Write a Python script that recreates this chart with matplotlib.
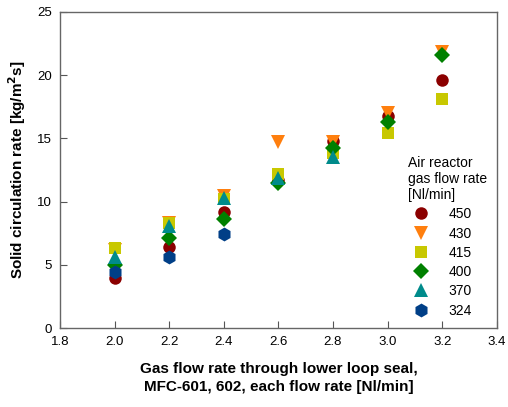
import matplotlib.pyplot as plt

plt.rcParams['font.family'] = ['Liberation Sans', 'DejaVu Sans']

# gas flow rate through lower loop seal [Nl/min]
x_flow = [2.0, 2.2, 2.4, 2.6, 2.8, 3.0, 3.2]

# solid circulation rate [kg/m2s] per air reactor flow rate
rate_450 = [3.95, 6.4, 9.2, 11.7, 14.8, 16.8, 19.6]
rate_430 = [6.2, 8.3, 10.4, 14.7, 14.7, 17.0, 21.8]
rate_415 = [6.3, 8.3, 10.2, 12.2, 13.8, 15.4, 18.1]
rate_400 = [5.0, 7.1, 8.6, 11.5, 14.2, 16.3, 21.6]
rate_370 = [5.6, 8.1, 10.3, 11.9, 13.5]
rate_324 = [4.4, 5.6, 7.4]

series = [
    ('450', rate_450, 'o', '#8b0000', 9),
    ('430', rate_430, 'v', '#ff7f0e', 9.5),
    ('415', rate_415, 's', '#c8c800', 8.5),
    ('400', rate_400, 'D', '#008000', 8),
    ('370', rate_370, '^', '#008b8b', 9.5),
    ('324', rate_324, 'h', '#003f87', 10),
]

fig = plt.figure(figsize=(5.08, 4.07), dpi=100)
ax = fig.add_axes([0.118, 0.194, 0.86, 0.777])

for label, vals, marker, color, ms in series:
    ax.plot(x_flow[:len(vals)], vals, linestyle='none', marker=marker,
            color=color, markersize=ms, markeredgewidth=0, label=label)

ax.set_xlim(1.8, 3.4)
ax.set_ylim(0, 25)
ax.set_xticks([1.8, 2.0, 2.2, 2.4, 2.6, 2.8, 3.0, 3.2, 3.4])
ax.set_yticks([0, 5, 10, 15, 20, 25])
ax.tick_params(direction='in', length=5, labelsize=9.5, color='#555555',
               top=False, right=False, pad=6)
for sp in ax.spines.values():
    sp.set_color('#666666')
    sp.set_linewidth(1)

ax.set_ylabel('Solid circulation rate [kg/m$^\\mathbf{2}$s]', fontsize=11,
              fontweight='bold', labelpad=6)
ax.set_xlabel('Gas flow rate through lower loop seal,\nMFC-601, 602, each flow rate [Nl/min]',
              fontsize=11, fontweight='bold', labelpad=10, linespacing=1.3)

leg = ax.legend(title='Air reactor\ngas flow rate\n[Nl/min]', loc='lower left',
                bbox_to_anchor=(0.773, 0.0), frameon=False, fontsize=10,
                title_fontsize=10, handletextpad=1.1, labelspacing=0.38,
                borderaxespad=0.35, handlelength=1.8)
leg._legend_box.align = 'left'

fig.savefig('out.png', dpi=100)
